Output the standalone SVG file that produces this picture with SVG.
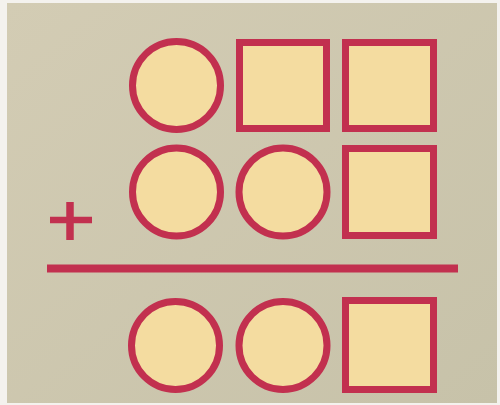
<svg xmlns="http://www.w3.org/2000/svg" width="500" height="405" viewBox="0 0 500 405">
  <defs>
    <linearGradient id="bg" x1="0" y1="0" x2="1" y2="1">
      <stop offset="0" stop-color="#d3ccb4"/>
      <stop offset="1" stop-color="#c7c2a9"/>
    </linearGradient>
    <style>
      .shape { fill: #f4dca0; stroke: #c2304f; stroke-width: 7; }
      .mark { stroke: #c2304f; fill: none; }
    </style>
  </defs>
  <rect x="0" y="0" width="500" height="405" fill="#f4f2ee"/>
  <rect x="7" y="3" width="490" height="400" fill="url(#bg)"/>

  <g id="row1">
    <circle id="r1c1" class="shape" cx="176.5" cy="85.5" r="44"/>
    <rect id="r1s1" class="shape" x="239.5" y="42.5" width="87" height="86"/>
    <rect id="r1s2" class="shape" x="345.5" y="42.5" width="88" height="86"/>
  </g>

  <g id="row2">
    <circle id="r2c1" class="shape" cx="176.5" cy="192" r="44"/>
    <circle id="r2c2" class="shape" cx="283" cy="192" r="44"/>
    <rect id="r2s1" class="shape" x="345.5" y="148.5" width="88" height="87"/>
  </g>

  <g id="plus" class="mark">
    <line x1="50" y1="220" x2="92" y2="220" stroke-width="6.5"/>
    <line x1="70" y1="202" x2="70" y2="240" stroke-width="7.5"/>
  </g>

  <g id="sumline" class="mark">
    <line x1="47" y1="268.5" x2="458" y2="268.5" stroke-width="8"/>
  </g>

  <g id="row3">
    <circle id="r3c1" class="shape" cx="175.5" cy="345.5" r="44"/>
    <circle id="r3c2" class="shape" cx="283" cy="345.5" r="44"/>
    <rect id="r3s1" class="shape" x="345.5" y="300.5" width="88" height="89"/>
  </g>
</svg>
